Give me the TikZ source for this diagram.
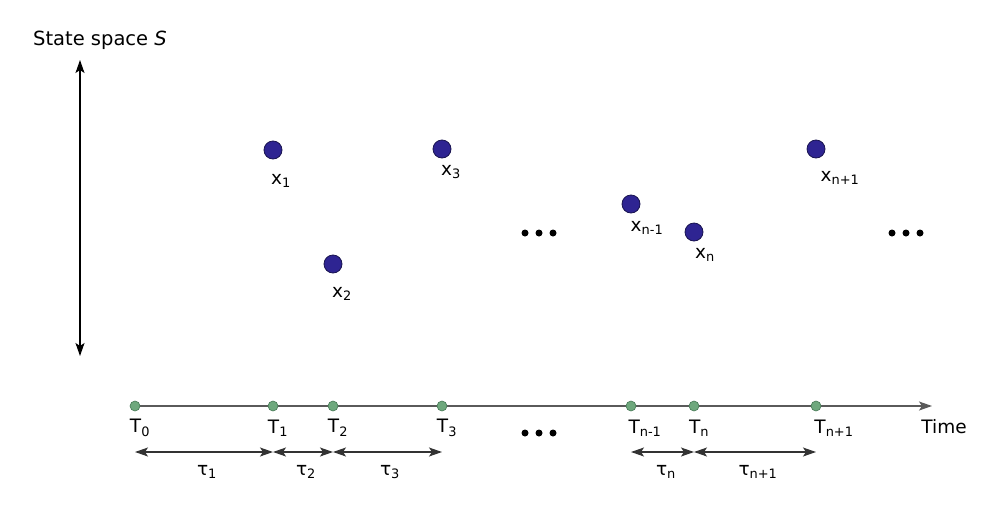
\documentclass[tikz,border=0pt]{standalone}
\usepackage{fontspec}
\setmainfont{DejaVu Sans}
\usetikzlibrary{arrows.meta}
\definecolor{stateblue}{RGB}{46,36,146}
\definecolor{statedge}{RGB}{25,20,80}
\definecolor{timegreen}{RGB}{110,168,125}
\definecolor{timeedge}{RGB}{70,120,85}
\definecolor{axisgray}{RGB}{90,90,90}
\tikzset{
  state/.style={circle,fill=stateblue,draw=statedge,line width=0.8pt,minimum size=18pt,inner sep=0pt},
  tick/.style={circle,fill=timegreen,draw=timeedge,line width=0.6pt,minimum size=10pt,inner sep=0pt},
  lbl/.style={font=\fontsize{18.5}{20}\selectfont,inner sep=0pt},
  interval/.style={{Stealth[length=13pt,width=9pt,inset=3pt]}-{Stealth[length=13pt,width=9pt,inset=3pt]},line width=1.2pt,draw=black!80},
  dot/.style={circle,fill=black,inner sep=0pt,minimum size=7pt}
}
\begin{document}
\begin{tikzpicture}[x=1pt,y=-1pt]
\useasboundingbox (0,0) rectangle (999,512);
% state axis
\coordinate (stop) at (80,60);
\coordinate (sbot) at (80,356);
\draw[{Stealth[length=13pt,width=9pt,inset=3pt]}-{Stealth[length=13pt,width=9pt,inset=3pt]},line width=1.2pt] (stop) -- (sbot);
\node[lbl,font=\fontsize{19.5}{21}\selectfont] (stitle) at (100,40) {State space \textit{S}};
% states
\node[state] (x1) at (273,150) {};
\node[state] (x2) at (333,264) {};
\node[state] (x3) at (442,149) {};
\node[state] (xn1) at (631,204) {};
\node[state] (xn) at (694,232) {};
\node[state] (xnp) at (816,149) {};
\node[lbl] (lx1) at (281,181) {x\textsubscript{1}};
\node[lbl] (lx2) at (342,294) {x\textsubscript{2}};
\node[lbl] (lx3) at (451,172) {x\textsubscript{3}};
\node[lbl] (lxn1) at (647,228) {x\textsubscript{n-1}};
\node[lbl] (lxn) at (705,255) {x\textsubscript{n}};
\node[lbl] (lxnp) at (840,178) {x\textsubscript{n+1}};
% ellipses
\foreach \n/\cx/\cy in {d1/539/233, d2/906/233, d3/539/433} {
  \node[dot] (\n a) at (\cx-14,\cy) {};
  \node[dot] (\n b) at (\cx,\cy) {};
  \node[dot] (\n c) at (\cx+14,\cy) {};
}
% time axis
\coordinate (tstart) at (135,406);
\coordinate (tend) at (932,406);
\draw[-{Stealth[length=13pt,width=9pt,inset=3pt]},line width=1.2pt,draw=axisgray] (tstart) -- (tend);
\node[tick] (t0) at (135,406) {};
\node[tick] (t1) at (273,406) {};
\node[tick] (t2) at (333,406) {};
\node[tick] (t3) at (442,406) {};
\node[tick] (tn1) at (631,406) {};
\node[tick] (tn) at (694,406) {};
\node[tick] (tnp) at (816,406) {};
\node[lbl] (lt0) at (140,428) {T\textsubscript{0}};
\node[lbl] (lt1) at (278,428) {T\textsubscript{1}};
\node[lbl] (lt2) at (338,428) {T\textsubscript{2}};
\node[lbl] (lt3) at (447,428) {T\textsubscript{3}};
\node[lbl] (ltn1) at (645,428) {T\textsubscript{n-1}};
\node[lbl] (ltn) at (699,428) {T\textsubscript{n}};
\node[lbl] (ltnp) at (834,428) {T\textsubscript{n+1}};
\node[lbl] (ltime) at (944,427) {Time};
% intervals
\coordinate (i0) at (135,452);
\coordinate (i1) at (273,452);
\coordinate (i2) at (333,452);
\coordinate (i3) at (442,452);
\coordinate (in1) at (631,452);
\coordinate (in) at (694,452);
\coordinate (inp) at (816,452);
\draw[interval] (i0) -- (i1);
\draw[interval] (i1) -- (i2);
\draw[interval] (i2) -- (i3);
\draw[interval] (in1) -- (in);
\draw[interval] (in) -- (inp);
\node[lbl] (tau1) at (207,472) {τ\textsubscript{1}};
\node[lbl] (tau2) at (306,472) {τ\textsubscript{2}};
\node[lbl] (tau3) at (390,472) {τ\textsubscript{3}};
\node[lbl] (taun) at (666,472) {τ\textsubscript{n}};
\node[lbl] (taunp) at (758,472) {τ\textsubscript{n+1}};
\end{tikzpicture}
\end{document}
